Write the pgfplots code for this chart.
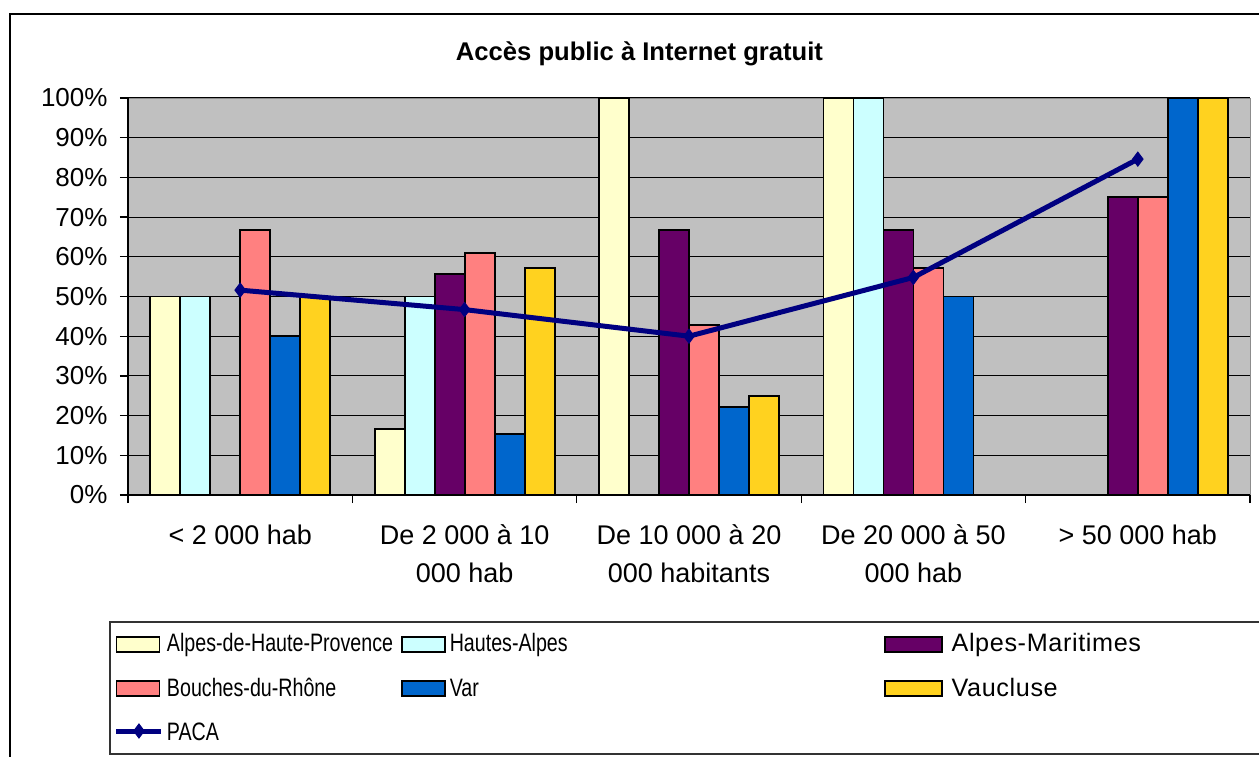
\documentclass[border=0pt]{standalone}
\usepackage{fontspec}
\setmainfont{Liberation Sans}
\newfontfamily\legfont[FakeStretch=0.78]{Liberation Sans}
\newfontfamily\legwide[LetterSpace=2.5]{Liberation Sans}
\usepackage{pgfplots}
\pgfplotsset{compat=1.18}
\definecolor{aph}{HTML}{FFFFCC}
\definecolor{ha}{HTML}{CCFFFF}
\definecolor{am}{HTML}{660066}
\definecolor{bdr}{HTML}{FF8080}
\definecolor{var}{HTML}{0066CC}
\definecolor{vau}{HTML}{FFD21F}
\definecolor{paca}{HTML}{000080}
\definecolor{plotbg}{HTML}{C0C0C0}
% bar legend swatch: width, then gap to the text
\pgfplotsset{
  swatch/.style 2 args={legend image code/.code={%
    \draw[##1] (0pt,-3.5pt) rectangle (#1,4pt);
    \path (#2,0pt);}},
  lineswatch/.style={legend image code/.code={%
    \draw[mark repeat=2, mark phase=2, ##1] plot coordinates {(0pt,1pt) (11.25pt,1pt) (22.5pt,1pt)};
    \path (24pt,0pt);}},
  bars/.style={draw=black, line width=0.9pt},
}
\begin{document}
\begin{tikzpicture}
\begin{axis}[
  at={(64pt,130.5pt)}, anchor=south west,
  scale only axis, width=561pt, height=198.5pt,
  ybar, bar width=15pt,
  xmin=-0.5, xmax=4.5, ymin=0, ymax=100,
  axis lines*=left,
  axis line style={black, line width=0.6pt},
  axis background/.style={fill=plotbg, draw=black!45},
  tick align=outside, major tick length=4pt,
  tick style={black, line width=0.6pt},
  ytick={0,10,...,100},
  yticklabels={0\%,10\%,20\%,30\%,40\%,50\%,60\%,70\%,80\%,90\%,100\%},
  yticklabel style={font=\fontsize{13}{15}\selectfont, xshift=-2.7pt},
  xtick={-0.5,0.5,...,4.5}, xticklabels={},
  extra x ticks={0,1,2,3,4},
  extra x tick labels={{< 2 000 hab},{De 2 000 à 10\\000 hab},{De 10 000 à 20\\000 habitants},{De 20 000 à 50\\000 hab},{> 50 000 hab}},
  extra x tick style={major tick length=0pt,
    xticklabel style={font=\fontsize{13.5}{19}\selectfont, align=center, inner sep=0pt, anchor=north, yshift=-14.7pt}},
  ymajorgrids, major grid style={black, line width=0.5pt},
  legend columns=3,
  legend cell align=left,
  legend style={at={(axis description cs:-0.0125,-0.3476)}, anchor=north west,
    draw=none, fill=none, inner sep=0pt, outer sep=0pt, row sep=10pt,
    font=\legfont\fontsize{12.6}{15}\selectfont,
    nodes={inner sep=0pt, text height=9.5pt, text depth=2.5pt},
    /tikz/every even column/.style={column sep=0pt},
    /tikz/every odd column/.style={column sep=0pt}},
]
\addplot[bars, fill=aph, bar shift=-37.5pt, swatch={21.5pt}{24pt}]
  coordinates {(0,50) (1,16.7) (2,100) (3,100)};
\addlegendentry{\makebox[117pt][l]{Alpes-de-Haute-Provence}}
\addplot[bars, fill=ha, bar shift=-22.5pt, swatch={21.5pt}{23.5pt}]
  coordinates {(0,50) (1,50) (3,100)};
\addlegendentry{\makebox[217pt][l]{Hautes-Alpes}}
\addplot[bars, fill=am, bar shift=-7.5pt, swatch={28.5pt}{33pt}]
  coordinates {(1,55.6) (2,66.7) (3,66.7) (4,75)};
\addlegendentry{{\legwide Alpes-Maritimes}}
\addplot[bars, fill=bdr, bar shift=7.5pt, swatch={21.5pt}{24pt}]
  coordinates {(0,66.7) (1,61) (2,42.9) (3,57.1) (4,75)};
\addlegendentry{\makebox[117pt][l]{Bouches-du-Rhône}}
\addplot[bars, fill=var, bar shift=22.5pt, swatch={21.5pt}{23.5pt}]
  coordinates {(0,40) (1,15.4) (2,22.2) (3,50) (4,100)};
\addlegendentry{\makebox[217pt][l]{Var}}
\addplot[bars, fill=vau, bar shift=37.5pt, swatch={28.5pt}{33pt}]
  coordinates {(0,50) (1,57.1) (2,25) (4,100)};
\addlegendentry{{\legwide Vaucluse}}
\addplot[sharp plot, color=paca, line width=2.5pt, mark=diamond*, mark size=3.5pt,
  mark options={solid, line width=0.5pt}, lineswatch]
  coordinates {(0,51.6) (1,46.7) (2,40) (3,54.8) (4,84.6)};
\addlegendentry{\makebox[117pt][l]{PACA}}
\end{axis}
\node[font=\bfseries\fontsize{12.8}{15}\selectfont, anchor=base] at (319.75pt,347.5pt) {Accès public à Internet gratuit};
\draw[black, line width=0.75pt] (5pt,371pt) rectangle (640pt,-5pt);
\draw[black!80, line width=0.6pt] (55pt,67pt) rectangle (640pt,1pt);
\pgfresetboundingbox
\useasboundingbox (0pt,0pt) rectangle (629.5pt,378pt);
\end{tikzpicture}
\end{document}
